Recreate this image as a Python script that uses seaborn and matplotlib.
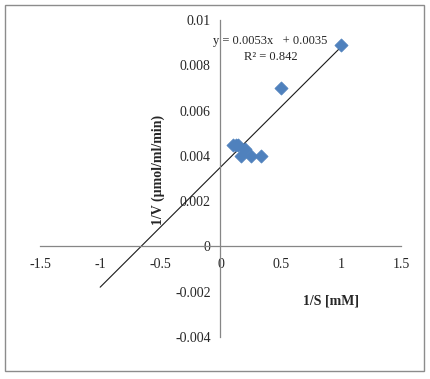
import numpy as np
import pandas as pd
import matplotlib
matplotlib.use("Agg")
import matplotlib.pyplot as plt
import seaborn as sns

# ==========================================================
# DATA (Lineweaver-Burk)
# ==========================================================

inv_s = [1.0, 0.5, 0.333, 0.25, 0.2, 0.167, 0.143, 0.125, 0.1]
inv_v = [0.0089, 0.0070, 0.0040, 0.0040, 0.0043, 0.0040, 0.0045, 0.0045, 0.0045]
x_ticks = [-1.5, -1, -0.5, 0, 0.5, 1, 1.5]
y_ticks = [-0.004, -0.002, 0, 0.002, 0.004, 0.006, 0.008, 0.01]
trend_x = [-1.0, 1.0]
trend_slope = 0.0053
trend_intercept = 0.0035
eq_text = "y = 0.0053x   + 0.0035"
r2_text = "R² = 0.842"

df = pd.DataFrame({"inv_s": inv_s, "inv_v": inv_v})

# ==========================================================
# STYLE
# ==========================================================

sns.set_style("white")
plt.rcParams["font.family"] = ["Liberation Serif", "DejaVu Serif"]
plt.rcParams["font.size"] = 10

fig = plt.figure(figsize=(4.30, 3.79), dpi=100)
ax = fig.add_axes([40 / 430, 1 - 337 / 379, 361 / 430, 317 / 379])

# outer frame
fig.add_artist(plt.Rectangle((5 / 430, 1 - 371 / 379), 419 / 430, 366 / 379,
                             transform=fig.transFigure, fill=False,
                             ec="#8c8c8c", lw=1.0))

# ==========================================================
# PLOT
# ==========================================================

# linear trendline (Excel style, extended back to x = -1)
tx = np.array(trend_x)
ax.plot(tx, trend_slope * tx + trend_intercept, color="#1a1a1a", lw=0.8, zorder=2)

sns.scatterplot(data=df, x="inv_s", y="inv_v", marker="D", s=45,
                color="#4F81BD", edgecolor="#4F81BD", linewidth=0.5,
                ax=ax, zorder=3)

ax.set_xlim(-1.5, 1.5)
ax.set_ylim(-0.004, 0.01)
ax.set_xticks(x_ticks)
ax.set_yticks(y_ticks)
ax.set_xticklabels([f"{v:g}" for v in x_ticks])
ax.set_yticklabels([f"{v:g}" for v in y_ticks])

for side in ["top", "right"]:
    ax.spines[side].set_visible(False)
ax.spines["left"].set_position(("data", 0))
ax.spines["bottom"].set_position(("data", 0))
for side in ["left", "bottom"]:
    ax.spines[side].set_color("#868686")
    ax.spines[side].set_linewidth(0.9)

ax.tick_params(axis="both", direction="out", length=4, width=0.9,
               color="#868686", labelsize=10, pad=3)
ax.tick_params(axis="x", pad=4)

ax.set_xlabel("1/S [mM]", fontweight="bold", fontsize=10)
ax.set_ylabel("1/V (µmol/ml/min)", fontweight="bold", fontsize=10)
ax.xaxis.set_label_coords(0.806, 0.1325)
ax.yaxis.set_label_coords(0.345, 0.527)

ax.text(0.637, 0.934, eq_text, transform=ax.transAxes, ha="center",
        va="center", fontsize=9)
ax.text(0.64, 0.883, r2_text, transform=ax.transAxes, ha="center",
        va="center", fontsize=9)

fig.savefig("out.png", dpi=100)
